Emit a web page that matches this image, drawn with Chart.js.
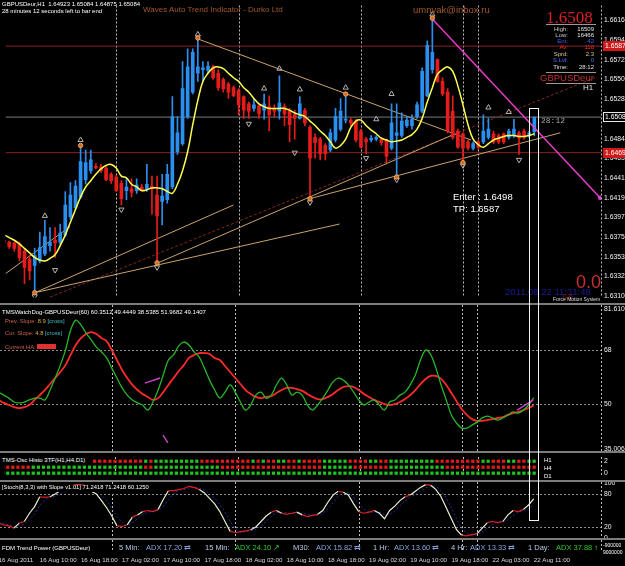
<!DOCTYPE html>
<html>
<head>
<meta charset="utf-8">
<title>GBPUSDeur H1</title>
<script src="https://cdn.jsdelivr.net/npm/chart.js@4.4.1/dist/chart.umd.min.js"></script>
<style>
  html, body { margin: 0; padding: 0; background: #000; }
  #wrap { position: relative; width: 625px; height: 566px; overflow: hidden; background: #000;
          font-family: "Liberation Sans", Arial, sans-serif; color: #fff; }
  #wrap canvas { position: absolute; left: 0; }
  .t { position: absolute; white-space: nowrap; line-height: 1; }
  .bar { position: absolute; left: 0; width: 625px; height: 2px; background: #7c7c7c; }
  .rule { position: absolute; height: 1px; background: #9a9a9a; }
  .r { text-align: right; }
  .fdm { font-size: 7.5px; top: 544px; }
  .lbl { color: #b8c8e8; }
  .flat { color: #86a4de; }
  .up { color: #32c832; }
</style>
</head>
<body>
<div id="wrap">
  <canvas id="mainChart" width="625" height="303" style="top:0"></canvas>
  <canvas id="dogChart" width="625" height="146" style="top:305px"></canvas>
  <canvas id="histoChart" width="625" height="27" style="top:453px"></canvas>
  <canvas id="stochChart" width="625" height="56" style="top:482px"></canvas>
  <canvas id="timeChart" width="625" height="26" style="top:540px"></canvas>

  <div class="bar" style="top:303px"></div>
  <div class="bar" style="top:451px"></div>
  <div class="bar" style="top:480px"></div>
  <div class="bar" style="top:538px"></div>

  <!-- main pane texts -->
  <div class="t" style="left:2px;top:1px;font-size:6px">GBPUSDeur,H1&nbsp; 1.64923 1.65084 1.64875 1.65084</div>
  <div class="t" style="left:2px;top:8px;font-size:6px">28 minutes 12 seconds left to bar end</div>
  <div class="t" style="left:143px;top:6px;font-size:8px;color:#a4582c">Waves Auto Trend Indicator - Durko Ltd</div>
  <div class="t" style="left:413px;top:5px;font-size:9.5px;color:#a4582c">umnyak@inbox.ru</div>

  <div class="t" style="left:546px;top:8px;font:17px 'Liberation Serif',serif;color:#d82020">1.6508</div>
  <div class="rule" style="left:546px;top:24px;width:50px"></div>
  <div class="t r" style="right:57px;top:26px;font-size:6px;color:#c8c8c8">High:</div>
  <div class="t r" style="right:31px;top:26px;font-size:6px;color:#e8e8e8">16509</div>
  <div class="t r" style="right:57px;top:32px;font-size:6px;color:#c8c8c8">Low:</div>
  <div class="t r" style="right:31px;top:32px;font-size:6px;color:#e8e8e8">16466</div>
  <div class="t r" style="right:57px;top:38px;font-size:6px;color:#3e5cff">Ent:</div>
  <div class="t r" style="right:31px;top:38px;font-size:6px;color:#3e5cff">42</div>
  <div class="t r" style="right:57px;top:44px;font-size:6px;color:#ff2828">Av:</div>
  <div class="t r" style="right:31px;top:44px;font-size:6px;color:#ff2828">110</div>
  <div class="t r" style="right:57px;top:51px;font-size:6px;color:#d8c488">Sprd:</div>
  <div class="t r" style="right:31px;top:51px;font-size:6px;color:#d8c488">2.3</div>
  <div class="t r" style="right:57px;top:57px;font-size:6px;color:#5070ff">S.Lvl:</div>
  <div class="t r" style="right:31px;top:57px;font-size:6px;color:#5070ff">0</div>
  <div class="t r" style="right:57px;top:64px;font-size:6px;color:#e0e0e0">Time:</div>
  <div class="t r" style="right:31px;top:64px;font-size:6px;color:#e0e0e0">28:12</div>
  <div class="rule" style="left:546px;top:72px;width:50px"></div>
  <div class="t" style="left:540px;top:73px;font-size:9.5px;color:#c83030">GBPUSDeur</div>
  <div class="rule" style="left:546px;top:83px;width:50px"></div>
  <div class="t" style="left:583px;top:84px;font-size:8px;color:#e0e0e0">H1</div>

  <div class="t" style="left:541px;top:116px;font:8px 'Liberation Mono',monospace;color:#a8a8a8">28:12</div>
  <div class="t" style="left:453px;top:192px;font-size:9.5px">Enter : 1.6498</div>
  <div class="t" style="left:453px;top:204px;font-size:9.5px">TP: 1.6587</div>
  <div class="t" style="left:576px;top:273px;font-size:18px;color:#c83030">0.0</div>
  <div class="t" style="left:505px;top:287px;font-size:9.5px;color:#1a1a96">2011.08.22 11:31:48</div>
  <div class="t" style="left:563px;top:293px;font-size:7px;color:#a02020">0.0</div>
  <div class="t" style="left:553px;top:297px;font-size:5px;color:#dcdcdc">Force Motion System</div>

  <!-- TMS watchdog pane -->
  <div class="t" style="left:2px;top:309px;font-size:6px">TMSWatchDog-GBPUSDeur(60) 60.3512 49.4449 38.5385 51.9682 49.1407</div>
  <div class="t" style="left:5px;top:319px;font-size:5.8px;color:#d0604a">Prev. Slope: <span style="color:#e0b030">8.9</span> <span style="color:#3cc0c0">[cross]</span></div>
  <div class="t" style="left:5px;top:331px;font-size:5.8px;color:#d0604a">Cur. Slope: <span style="color:#e0b030">4.8</span> <span style="color:#3cc0c0">[cross]</span></div>
  <div class="t" style="left:5px;top:344px;font-size:5.8px;color:#d0604a">Current HA: <span style="display:inline-block;width:19px;height:5px;background:#e03030"></span></div>

  <!-- histo pane -->
  <div class="t" style="left:0;top:457px;font-size:6px;background:#000;padding:0 2px 1px 2px">TMS-Osc Histo 3TF(H1,H4,D1)</div>
  <div class="t" style="left:544px;top:457px;font-size:6px">H1</div>
  <div class="t" style="left:544px;top:465px;font-size:6px">H4</div>
  <div class="t" style="left:544px;top:473px;font-size:6px">D1</div>

  <!-- stoch pane -->
  <div class="t" style="left:0;top:485px;font-size:5.8px;background:#000;padding:0 2px 1px 2px">[Stoch(8,3,3) with Slope v1.01] 71.2418 71.2418 60.1250</div>

  <!-- FDM row -->
  <div class="t" style="left:2px;top:545px;font-size:6px">FDM Trend Power (GBPUSDeur)</div>
  <div class="t fdm lbl" style="left:119px">5 Min:</div>
  <div class="t fdm flat" style="left:146px">ADX 17.20 &#8644;</div>
  <div class="t fdm lbl" style="left:205px">15 Min:</div>
  <div class="t fdm up" style="left:235px">ADX 24.10 &#8599;</div>
  <div class="t fdm lbl" style="left:293px">M30:</div>
  <div class="t fdm flat" style="left:316px">ADX 15.82 &#8644;</div>
  <div class="t fdm lbl" style="left:373px">1 Hr:</div>
  <div class="t fdm flat" style="left:394px">ADX 13.60 &#8644;</div>
  <div class="t fdm lbl" style="left:451px">4 Hr:</div>
  <div class="t fdm flat" style="left:470px">ADX 13.33 &#8644;</div>
  <div class="t fdm lbl" style="left:528px">1 Day:</div>
  <div class="t fdm up" style="left:556px">ADX 37.88 <span style="color:#40ff40">&#8593;</span></div>
  <div class="t" style="left:603px;top:543px;font-size:5px">-900000</div>
  <div class="t" style="left:603px;top:550px;font-size:5px">9000000</div>

  <div style="position:absolute;left:529px;top:108px;width:8px;height:411px;border:1px solid #f4f4f4"></div>
</div>

<script>
// ---- candles, GBPUSDeur H1, 16 Aug 02:00 .. 22 Aug 11:00 ----
const opens = [1.6372,1.6370,1.6369,1.6368,1.6360,1.6351,1.6344,1.6349,1.6357,1.6366,
  1.6372,1.6370,1.6378,1.6398,1.6408,1.6420,1.6439,1.6449,1.6454,1.6453,
  1.6452,1.6445,1.6442,1.6435,1.6427,1.6429,1.6427,1.6431,1.6429,1.6432,
  1.6422,1.6415,1.6417,1.6431,1.6470,1.6479,1.6509,1.6536,1.6557,1.6561,
  1.6560,1.6564,1.6557,1.6550,1.6545,1.6541,1.6538,1.6531,1.6523,1.6518,
  1.6521,1.6516,1.6520,1.6518,1.6515,1.6520,1.6515,1.6511,1.6507,1.6516,
  1.6497,1.6486,1.6484,1.6477,1.6472,1.6483,1.6495,1.6505,1.6505,1.6504,
  1.6493,1.6484,1.6483,1.6484,1.6484,1.6483,1.6474,1.6488,1.6488,1.6499,
  1.6499,1.6509,1.6515,1.6532,1.6561,1.6572,1.6548,1.6536,1.6515,1.6493,
  1.6490,1.6481,1.6474,1.6481,1.6481,1.6486,1.6490,1.6488,1.6490,1.6486,
  1.6488,1.6491,1.6493,1.6488,1.64923];
const highs = [1.6374,1.6371,1.6370,1.6370,1.6363,1.6355,1.6363,1.6381,1.6394,1.6386,
  1.6386,1.6390,1.6426,1.6436,1.6438,1.6475,1.6472,1.6472,1.6457,1.6456,
  1.6454,1.6447,1.6444,1.6438,1.6440,1.6440,1.6440,1.6434,1.6456,1.6443,
  1.6443,1.6445,1.6456,1.6531,1.6509,1.6570,1.6584,1.6584,1.6595,1.6570,
  1.6570,1.6566,1.6561,1.6552,1.6547,1.6543,1.6540,1.6532,1.6525,1.6529,
  1.6523,1.6534,1.6532,1.6522,1.6554,1.6523,1.6518,1.6516,1.6531,1.6518,
  1.6499,1.6490,1.6486,1.6479,1.6495,1.6518,1.6529,1.6534,1.6507,1.6506,
  1.6495,1.6486,1.6488,1.6488,1.6486,1.6484,1.6523,1.6523,1.6513,1.6509,
  1.6511,1.6525,1.6563,1.6593,1.6618,1.6573,1.6552,1.6540,1.6532,1.6495,
  1.6491,1.6483,1.6481,1.6483,1.6511,1.6507,1.6493,1.6490,1.6491,1.6495,
  1.6506,1.6493,1.6495,1.6493,1.65084];
const lows = [1.6367,1.6363,1.6360,1.6349,1.6324,1.6328,1.6314,1.6347,1.6355,1.6360,
  1.6353,1.6367,1.6376,1.6395,1.6406,1.6418,1.6434,1.6446,1.6451,1.6447,
  1.6438,1.6435,1.6426,1.6411,1.6417,1.6420,1.6424,1.6426,1.6426,1.6401,
  1.6347,1.6389,1.6413,1.6429,1.6467,1.6477,1.6507,1.6534,1.6548,1.6547,
  1.6557,1.6550,1.6538,1.6536,1.6529,1.6531,1.6511,1.6507,1.6507,1.6515,
  1.6507,1.6506,1.6493,1.6509,1.6506,1.6499,1.6481,1.6484,1.6506,1.6499,
  1.6418,1.6463,1.6461,1.6461,1.6470,1.6481,1.6493,1.6502,1.6499,1.6481,
  1.6474,1.6468,1.6481,1.6482,1.6477,1.6458,1.6472,1.6442,1.6486,1.6497,
  1.6495,1.6507,1.6513,1.6531,1.6557,1.6547,1.6532,1.6491,1.6484,1.6474,
  1.6458,1.6472,1.6472,1.6473,1.6479,1.6484,1.6479,1.6479,1.6479,1.6484,
  1.6486,1.6467,1.6484,1.6486,1.64875];
const closes = [1.6369,1.6365,1.6363,1.6353,1.6342,1.6338,1.6355,1.6364,1.6376,1.6370,
  1.6369,1.6380,1.6411,1.6422,1.6432,1.6459,1.6458,1.6461,1.6452,1.6449,
  1.6439,1.6438,1.6427,1.6418,1.6431,1.6425,1.6433,1.6427,1.6434,1.6429,
  1.6399,1.6421,1.6445,1.6509,1.6491,1.6540,1.6564,1.6580,1.6564,1.6563,
  1.6565,1.6552,1.6541,1.6540,1.6536,1.6532,1.6522,1.6516,1.6515,1.6522,
  1.6512,1.6523,1.6511,1.6515,1.6524,1.6512,1.6500,1.6507,1.6523,1.6502,
  1.6463,1.6480,1.6468,1.6468,1.6491,1.6509,1.6515,1.6506,1.6502,1.6483,
  1.6475,1.6481,1.6485,1.6486,1.6480,1.6465,1.6502,1.6491,1.6504,1.6505,
  1.6506,1.6522,1.6559,1.6588,1.6580,1.6548,1.6534,1.6493,1.6486,1.6475,
  1.6474,1.6474,1.6479,1.6475,1.6493,1.6495,1.6481,1.6481,1.6481,1.6493,
  1.6495,1.6485,1.6486,1.6491,1.65084];
// yellow wave line
const waveLine = [1.6378,1.6375,1.6372,1.6368,1.6363,1.6358,1.6353,1.6350,1.6349,1.6352,
  1.6356,1.6366,1.6378,1.6392,1.6406,1.6420,1.6431,1.6438,1.6445,1.6451,
  1.6455,1.6456,1.6452,1.6443,1.6441,1.6434,1.6431,1.6427,1.6428,1.6430,
  1.6430,1.6429,1.6426,1.6424,1.6434,1.6449,1.6470,1.6500,1.6527,1.6548,
  1.6557,1.6563,1.6564,1.6562,1.6557,1.6552,1.6548,1.6541,1.6536,1.6529,
  1.6523,1.6520,1.6518,1.6518,1.6518,1.6518,1.6516,1.6513,1.6511,1.6509,
  1.6504,1.6499,1.6493,1.6488,1.6481,1.6474,1.6477,1.6484,1.6497,1.6504,
  1.6505,1.6499,1.6494,1.6490,1.6485,1.6483,1.6481,1.6482,1.6483,1.6486,
  1.6489,1.6495,1.6507,1.6525,1.6541,1.6556,1.6561,1.6564,1.6559,1.6543,
  1.6522,1.6500,1.6484,1.6478,1.6475,1.6479,1.6483,1.6485,1.6487,1.6488,
  1.6488,1.6487,1.6487,1.6488,1.6490];

// fractal arrows and swing points: bar index + price
const upArrowBars = [8, 15, 38, 51, 54, 58, 67, 73, 76, 84, 95, 99];
const upArrowPrices = [1.6399, 1.6483, 1.6600, 1.6540, 1.6562, 1.6539, 1.6541, 1.6506, 1.6534, 1.6622, 1.6519, 1.6514];
const downArrowBars = [6, 10, 23, 30, 48, 57, 60, 71, 77, 90, 101];
const downArrowPrices = [1.6310, 1.6339, 1.6406, 1.6342, 1.6501, 1.6469, 1.6414, 1.6463, 1.6439, 1.6455, 1.6461];
const swingBars = [6, 15, 30, 38, 60, 67, 77, 84, 90];
const swingPrices = [1.6314, 1.6477, 1.6347, 1.6596, 1.6418, 1.6534, 1.6442, 1.6618, 1.6458];

// trend lines: [bar, price] pairs
const trendLines = [
  [[0.27, 1.6335], [12.9, 1.6387]],
  [[6.1, 1.6314], [44.97, 1.6411]],
  [[6.1, 1.6314], [65.8, 1.6390]],
  [[29.8, 1.6346], [87.7, 1.6488]],
  [[38, 1.6595], [91.6, 1.6483]],
  [[59.9, 1.6418], [109.1, 1.6491]]
];
const channelLine = [[9.0, 1.6309], [115.9, 1.6552]];
const pinkLine = [[83.85, 1.6618], [116.9, 1.6419]];

const tpLevel = 1.6587, bidLevel = 1.65084, stopLevel = 1.6469;
const tagLevels = [tpLevel, bidLevel, stopLevel];
const priceTicks = [1.66160, 1.65940, 1.65720, 1.65501, 1.65283, 1.64843, 1.64630, 1.64410,
  1.64190, 1.63975, 1.63753, 1.63535, 1.63320, 1.63100];

// TMSWatchDog
const dogGreen = [53.9,52.9,51.9,50.6,50.3,50.6,51.3,51.9,51.9,51.3,
  54.6,58.6,62.9,67.9,74.6,77.9,76.3,73.6,71.3,68.9,
  67.3,65.3,61.9,58.6,55.3,52.9,51.3,50.3,49.6,47.9,
  50.6,54.6,59.6,64.6,66.3,69.3,70.6,69.6,67.3,65.6,
  61.9,57.9,54.6,51.9,53.9,56.3,53.9,50.6,47.9,49.6,
  52.9,53.9,51.9,52.9,56.3,58.6,56.3,52.9,53.9,52.9,
  49.6,47.9,49.6,51.9,54.6,57.3,58.6,57.9,56.3,53.9,
  51.3,49.6,50.6,51.3,49.6,47.9,50.6,51.3,52.9,53.9,
  56.3,59.6,64.6,67.9,66.3,61.9,56.3,51.3,46.3,43.6,
  41.9,41.9,42.9,43.9,45.3,45.9,45.3,44.6,45.3,46.3,
  47.3,46.9,47.9,49.6,51.97];
const dogRed = [51.3,50.3,49.6,48.9,48.6,48.9,49.6,51.3,52.9,54.6,
  56.6,58.6,60.6,62.9,66.3,69.6,71.9,73.3,73.9,73.3,
  71.9,70.9,67.9,64.6,61.3,58.6,56.3,54.6,53.3,52.3,
  51.3,51.9,53.9,56.3,58.6,60.9,62.9,65.3,66.3,66.9,
  66.9,66.6,65.3,64.6,62.6,60.6,58.6,56.6,54.6,53.3,
  52.3,51.9,52.3,52.6,53.6,54.6,55.3,55.3,54.9,54.3,
  53.3,52.3,51.6,51.6,52.3,53.3,54.6,55.6,55.9,55.6,
  54.6,53.3,52.3,51.3,50.6,49.9,49.6,49.9,50.6,51.6,
  52.9,54.6,56.6,58.3,59.3,59.3,58.3,56.3,53.6,50.9,
  48.3,46.3,44.9,44.3,44.3,44.6,44.9,45.3,45.6,46.3,
  46.9,47.3,47.9,48.6,49.44];
const slopeMarks = [
  [[28.4, 56.9], [31.4, 58.6]],
  [[31.95, 39.6], [32.9, 37.0]],
  [[100.8, 47.9], [103.9, 51.3]]
];
const dogTicks = [81.6106, 68, 50, 35.0068];
const dogLevels = [68, 50];

// TMS-Osc histo, 1 = up, 0 = down, null = hidden under the title
const histoH1 = [null,null,null,null,null,null,null,null,null,null,
  null,null,null,null,null,null,null,null,0,0,
  0,0,0,0,0,0,0,0,1,0,
  1,1,1,1,1,1,1,1,1,0,
  0,0,0,0,0,0,0,0,0,1,
  0,1,0,0,1,1,0,0,1,0,
  0,0,0,1,1,1,1,1,0,0,
  0,0,1,1,0,0,1,1,1,1,
  1,1,1,1,1,0,0,0,0,0,
  0,0,0,0,1,1,0,0,0,1,
  1,0,0,1,1];
const histoH4 = [0,0,0,0,0,0,1,1,1,1,
  1,1,1,1,1,1,1,1,1,1,
  1,1,1,1,1,1,1,1,0,0,
  1,1,1,1,1,1,1,1,1,1,
  1,1,1,0,0,0,0,0,0,0,
  0,0,0,0,0,0,0,0,0,0,
  0,0,0,1,1,1,1,1,1,0,
  0,0,0,0,0,0,1,1,1,1,
  1,1,1,1,1,1,1,0,0,0,
  0,0,0,0,0,0,0,0,0,0,
  0,0,0,0,0];
const histoD1 = opens.map(() => 1);

// Stochastic
const stochMain = [27,24,22,18,27,30,45,57,75,74, 75,80,86,90,94,97,97,95,85,80,
  68,55,40,22,21,24,38,42,48,50, 48,52,70,86,86,88,90,94,92,88,
  82,72,62,48,30,12,10,11,13,15, 20,30,40,47,50,45,43,45,47,42,
  39,41,43,50,65,78,85,83,78,62, 48,45,47,50,45,35,50,58,68,75,
  78,85,92,97,96,88,75,55,35,15, 5,4,6,8,18,28,30,28,30,42,
  50,48,52,60,71.24];
const stochSignal = [30,27,24,21,22,25,34,44,59,69, 75,76,80,85,90,94,96,96,92,87,
  78,68,54,39,28,22,28,35,43,47, 49,50,57,69,81,87,88,91,92,91,
  87,81,72,61,47,30,17,11,11,13, 16,22,30,39,46,47,46,44,45,45,
  43,41,41,45,53,64,76,82,82,74, 63,52,47,47,47,43,43,48,59,67,
  74,79,85,91,95,94,86,73,55,35, 18,8,5,6,11,18,25,29,29,33,
  41,47,50,53,60.125];
const stochTicks = [100, 80, 20, 0];
const stochLevels = [80, 20];

const dateLabels = ['16 Aug 2011', '16 Aug 10:00', '16 Aug 18:00', '17 Aug 02:00', '17 Aug 10:00',
  '17 Aug 18:00', '18 Aug 02:00', '18 Aug 10:00', '18 Aug 18:00', '19 Aug 02:00', '19 Aug 10:00',
  '19 Aug 18:00', '22 Aug 03:00', '22 Aug 11:00'];
const daySeparators = [22, 46, 70, 90, 93];

// ---- layout constants ----
const X_MIN = 0.272, X_MAX = 117.08;
const BULL = '#2b8ff0', BEAR = '#e51c1c';
const UP = '#1fc21f', DOWN = '#e01a1a';

const mtFrame = {
  id: 'mtFrame',
  beforeDatasetsDraw(chart, args, opts) {
    const { ctx, chartArea: a } = chart;
    const xs = chart.scales.x, ys = chart.scales.y;
    ctx.save();
    ctx.lineWidth = 1;
    ctx.setLineDash([2, 2]);
    ctx.strokeStyle = '#bdbdbd';
    ctx.beginPath();
    daySeparators.forEach(i => {
      const px = Math.round(xs.getPixelForValue(i)) + 0.5;
      ctx.moveTo(px, a.top); ctx.lineTo(px, a.bottom);
    });
    const rx = Math.round(a.right) + 0.5;
    ctx.moveTo(rx, a.top); ctx.lineTo(rx, a.bottom);
    ctx.stroke();
    if (opts.levels) {
      ctx.strokeStyle = '#8a8a8a';
      ctx.beginPath();
      opts.levels.forEach(v => {
        const py = Math.round(ys.getPixelForValue(v)) + 0.5;
        ctx.moveTo(a.left, py); ctx.lineTo(a.right, py);
      });
      ctx.stroke();
    }
    ctx.restore();
  }
};

const tagStyles = [
  { fill: '#d01818', stroke: null, text: '#fff' },
  { fill: '#000', stroke: '#e8e8e8', text: '#fff' },
  { fill: '#d01818', stroke: null, text: '#fff' }
];
const priceTags = {
  id: 'priceTags',
  afterDraw(chart) {
    const { ctx, chartArea: a, scales: { y } } = chart;
    ctx.save();
    ctx.font = '6.8px "Liberation Sans"';
    ctx.textBaseline = 'middle';
    tagLevels.forEach((v, k) => {
      const py = Math.round(y.getPixelForValue(v));
      const s = tagStyles[k];
      ctx.fillStyle = s.fill;
      ctx.fillRect(a.right + 2, py - 5, 30, 10);
      if (s.stroke) { ctx.strokeStyle = s.stroke; ctx.lineWidth = 1; ctx.strokeRect(a.right + 2.5, py - 4.5, 30, 9); }
      ctx.fillStyle = s.text;
      ctx.fillText(v.toFixed(5), a.right + 4, py + 0.5);
    });
    ctx.restore();
  }
};

const font = size => ({ family: 'Liberation Sans', size });

function xAxis() {
  return { type: 'linear', min: X_MIN, max: X_MAX, offset: false, display: false, grid: { display: false, offset: false } };
}

function yAxis(min, max, ticks, fmt) {
  return {
    type: 'linear', position: 'right', min, max, beginAtZero: false,
    grid: { display: false, drawTicks: false }, border: { display: false },
    afterBuildTicks: s => { s.ticks = ticks.map(v => ({ value: v })); },
    afterFit: s => { s.width = 24; s.paddingTop = 0; s.paddingBottom = 0; },
    ticks: { color: '#f0f0f0', font: font(6.8), padding: 3, autoSkip: false, callback: fmt }
  };
}

function chartOptions(y, levels) {
  return {
    responsive: false, animation: false, devicePixelRatio: 1, events: [],
    layout: { padding: 0 },
    plugins: { legend: { display: false }, tooltip: { enabled: false }, mtFrame: { levels } },
    scales: { x: xAxis(), y }
  };
}

const pts = (xs, ys) => xs.map((x, k) => ({ x, y: ys[k] }));
const seg = pairs => pairs.map(([x, y]) => ({ x, y }));
const flat = v => [{ x: X_MIN, y: v }, { x: X_MAX, y: v }];
const series = arr => arr.map((y, i) => ({ x: i, y }));
const candleColor = i => closes[i] >= opens[i] ? BULL : BEAR;
const line = (data, color, width, order, extra) => Object.assign({
  type: 'line', data, borderColor: color, borderWidth: width, pointRadius: 0, fill: false, order
}, extra || {});

// ---- main pane ----
new Chart(document.getElementById('mainChart'), {
  type: 'bar',
  data: {
    datasets: [
      line(flat(tpLevel), '#8c2222', 1, 30),
      line(flat(stopLevel), '#8c2222', 1, 30),
      line(flat(bidLevel), '#7a7a7a', 1, 30),
      ...trendLines.map(t => line(seg(t), '#c9a46c', 1, 25)),
      line(seg(channelLine), '#7c2a22', 1, 25, { borderDash: [3, 2] }),
      {
        type: 'bar', data: highs.map((h, i) => ({ x: i, y: [lows[i], h] })),
        backgroundColor: c => candleColor(c.dataIndex), barThickness: 1, grouped: false, order: 20
      },
      {
        type: 'bar', data: opens.map((o, i) => ({ x: i, y: [o, closes[i]] })),
        backgroundColor: c => candleColor(c.dataIndex), barThickness: 3, minBarLength: 1, grouped: false, order: 19
      },
      line(series(waveLine), '#ffff50', 1.5, 10, { tension: 0.4 }),
      line(seg(pinkLine), '#e83cc8', 1.5, 9, { pointRadius: [0, 1.5], pointBackgroundColor: '#e83cc8' }),
      line(pts(upArrowBars, upArrowPrices), '#b4b4b4', 1, 5, {
        showLine: false, pointRadius: 3, pointStyle: 'triangle', pointRotation: 0,
        pointBackgroundColor: 'rgba(0,0,0,0)', pointBorderColor: '#b4b4b4', pointBorderWidth: 1
      }),
      line(pts(downArrowBars, downArrowPrices), '#b4b4b4', 1, 5, {
        showLine: false, pointRadius: 3, pointStyle: 'triangle', pointRotation: 180,
        pointBackgroundColor: 'rgba(0,0,0,0)', pointBorderColor: '#b4b4b4', pointBorderWidth: 1
      }),
      line(pts(swingBars, swingPrices), '#e07828', 1, 4, {
        showLine: false, pointRadius: 2.2, pointStyle: 'circle',
        pointBackgroundColor: '#d86a20', pointBorderColor: '#ffb870', pointBorderWidth: 0.8
      })
    ]
  },
  options: chartOptions(yAxis(1.63086, 1.66320, priceTicks, v => v.toFixed(5))),
  plugins: [mtFrame, priceTags]
});

// ---- TMSWatchDog pane ----
new Chart(document.getElementById('dogChart'), {
  type: 'line',
  data: {
    datasets: [
      line(series(dogRed), '#ff2b2b', 1.8, 3, { tension: 0.35 }),
      line(series(dogGreen), '#28b428', 1.3, 2, { tension: 0.35 }),
      ...slopeMarks.map(m => line(seg(m), '#c844c8', 1.4, 1))
    ]
  },
  options: chartOptions(yAxis(34.277, 82.944, dogTicks, v => Number.isInteger(v) ? String(v) : v.toFixed(4)), dogLevels),
  plugins: [mtFrame]
});

// ---- TMS-Osc histo pane ----
const histoRow = (arr, level) => ({
  type: 'line', showLine: false, order: 1,
  data: arr.map((v, i) => v === null ? null : { x: i, y: level }).filter(p => p),
  pointStyle: 'rect', pointRadius: 2.3,
  pointBackgroundColor: c => arr[c.raw.x] ? UP : DOWN,
  pointBorderWidth: 0
});
new Chart(document.getElementById('histoChart'), {
  type: 'line',
  data: { datasets: [histoRow(histoH1, 2), histoRow(histoH4, 1), histoRow(histoD1, 0)] },
  options: chartOptions(yAxis(-0.47, 2.706, [2, 0], v => String(v))),
  plugins: [mtFrame]
});

// ---- Stochastic pane ----
new Chart(document.getElementById('stochChart'), {
  type: 'line',
  data: {
    datasets: [
      line(series(stochSignal), '#22309c', 1, 3, { borderDash: [2, 2] }),
      line(series(stochMain), '#e8f0cc', 1.2, 2, {
        segment: { borderColor: c => Math.abs(c.p1.parsed.y - c.p0.parsed.y) < 5 ? '#e02020' : '#e8f0cc' }
      })
    ]
  },
  options: chartOptions(yAxis(0, 101.8, stochTicks, v => String(v)), stochLevels),
  plugins: [mtFrame]
});

// ---- time axis ----
new Chart(document.getElementById('timeChart'), {
  type: 'line',
  data: { datasets: [{ data: [] }] },
  options: {
    responsive: false, animation: false, devicePixelRatio: 1, events: [],
    layout: { padding: { right: 24 } },
    plugins: { legend: { display: false }, tooltip: { enabled: false } },
    scales: {
      x: {
        type: 'linear', min: X_MIN, max: X_MAX, position: 'bottom', offset: false,
        grid: { display: false, drawTicks: false }, border: { display: false },
        afterBuildTicks: s => { s.ticks = dateLabels.map((_, k) => ({ value: k * 8 })); },
        afterFit: s => { s.height = 14; s.paddingLeft = 0; s.paddingRight = 0; },
        ticks: {
          autoSkip: false, maxRotation: 0, minRotation: 0, align: 'start', padding: 5,
          color: '#dadada', font: font(6.2), callback: v => dateLabels[Math.round(v / 8)] || ''
        }
      },
      y: { display: false }
    }
  },
  plugins: [mtFrame]
});
</script>
</body>
</html>
